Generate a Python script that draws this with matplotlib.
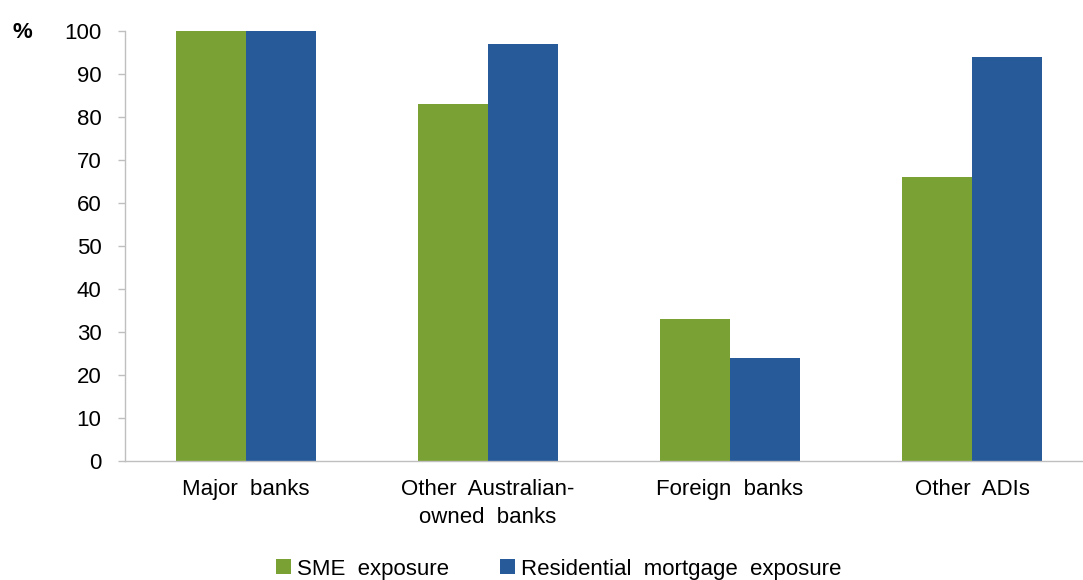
import matplotlib
matplotlib.use('Agg')
import matplotlib.pyplot as plt
import numpy as np

categories = ['Major  banks', 'Other  Australian-\nowned  banks', 'Foreign  banks', 'Other  ADIs']
sme = [100, 83, 33, 66]
mortgage = [100, 97, 24, 94]
y_ticks = [0, 10, 20, 30, 40, 50, 60, 70, 80, 90, 100]

green = '#7AA133'
blue = '#265A99'
grey = '#BFBFBF'

plt.rcParams['font.family'] = ['Liberation Sans', 'DejaVu Sans']

fig = plt.figure(figsize=(10.83, 5.8), dpi=100)
ax = fig.add_axes([125 / 1083, 1 - 461 / 580, 1 - 125 / 1083, (461 - 31) / 580])

x = np.arange(len(categories))
w = 0.29
ax.bar(x - w / 2, sme, w, color=green, label='SME  exposure')
ax.bar(x + w / 2, mortgage, w, color=blue, label='Residential  mortgage  exposure')

ax.set_xlim(-0.5, (1083 - 246) / 242)
ax.set_ylim(0, 100)
ax.set_yticks(y_ticks)
ax.set_xticks(x)
ax.set_xticklabels(categories, fontsize=16, linespacing=1.45)
ax.tick_params(axis='x', length=0, pad=13)
ax.tick_params(axis='y', length=5, width=1, color=grey, pad=12, labelsize=16)

for s in ['top', 'right']:
    ax.spines[s].set_visible(False)
for s in ['left', 'bottom']:
    ax.spines[s].set_color(grey)
    ax.spines[s].set_linewidth(1)

fig.text(22 / 1083, 1 - 32 / 580, '%', fontsize=16, fontweight='bold', ha='center', va='center')

fig.legend(loc='center', bbox_to_anchor=(559 / 1083, 1 - 569 / 580), ncol=2, frameon=False,
           fontsize=16, handlelength=0.65, handleheight=0.65, handletextpad=0.3, columnspacing=2.3,
           borderpad=0)

fig.savefig('out.png', dpi=100)
